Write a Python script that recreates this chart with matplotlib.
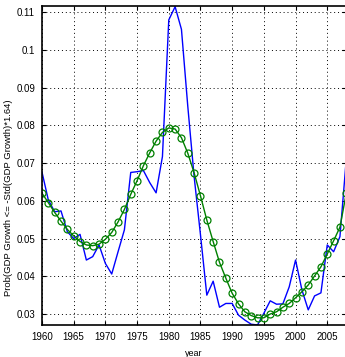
import numpy as np
import matplotlib
matplotlib.use('Agg')
import matplotlib.pyplot as plt

plt.rcParams['font.family'] = ['Liberation Sans', 'DejaVu Sans']

years = np.arange(1960, 2009)

# Prob(GDP growth <= -std*1.64), yearly estimate (blue)
prob_raw = [0.0676, 0.0602, 0.0571, 0.0573, 0.0518, 0.0500, 0.0511, 0.0443, 0.0452, 0.0483,
            0.0434, 0.0406, 0.0465, 0.0523, 0.0675, 0.0677, 0.0680, 0.0648, 0.0621, 0.0717,
            0.1079, 0.1114, 0.1054, 0.0850, 0.0664, 0.0510, 0.0350, 0.0387, 0.0318, 0.0328,
            0.0328, 0.0297, 0.0284, 0.0273, 0.0271, 0.0302, 0.0335, 0.0326, 0.0327, 0.0372,
            0.0443, 0.0364, 0.0311, 0.0348, 0.0356, 0.0483, 0.0465, 0.0505, 0.0710]

# smoothed series (green circles)
prob_smooth = [0.0620, 0.0595, 0.0569, 0.0546, 0.0524, 0.0507, 0.0492, 0.0483, 0.0481, 0.0485,
               0.0498, 0.0516, 0.0544, 0.0577, 0.0617, 0.0653, 0.0693, 0.0727, 0.0758, 0.0781,
               0.0793, 0.0790, 0.0767, 0.0726, 0.0674, 0.0613, 0.0549, 0.0492, 0.0437, 0.0395,
               0.0355, 0.0327, 0.0306, 0.0296, 0.0290, 0.0290, 0.0300, 0.0306, 0.0318, 0.0328,
               0.0343, 0.0359, 0.0377, 0.0401, 0.0425, 0.0459, 0.0494, 0.0530, 0.0620]

xticks = np.arange(1960, 2006, 5)
yticks = [0.03, 0.04, 0.05, 0.06, 0.07, 0.08, 0.09, 0.1, 0.11]
ytick_labels = ['0.03', '0.04', '0.05', '0.06', '0.07', '0.08', '0.09', '0.1', '0.11']

fig = plt.figure(figsize=(3.45, 3.57), dpi=100)
ax = fig.add_axes([0.1217, 0.0896, 0.8820, 0.8936])

ax.plot(years, prob_raw, color='#0000ff', lw=1.0)
ax.plot(years, prob_smooth, color='#008000', lw=1.0, marker='o',
        markersize=5, markerfacecolor='none', markeredgecolor='#008000', markeredgewidth=0.9)

ax.set_xlim(1960, 2008)
ax.set_ylim(0.02709, 0.11159)
ax.set_xticks(xticks)
ax.set_yticks(yticks)
ax.set_yticklabels(ytick_labels)
ax.tick_params(direction='in', top=True, right=True, labelsize=7, length=3, width=0.8, pad=5)
ax.grid(True, color='k', linestyle=(0, (1, 3)), lw=0.7)

for s in ax.spines.values():
    s.set_linewidth(1.2)

ax.set_xlabel('year', fontsize=6.5)
ax.xaxis.set_label_coords(0.5, -0.075)
ax.set_ylabel('Prob(GDP Growth <= -Std(GDP Growth)*1.64)', fontsize=6.8, labelpad=5)
ax.yaxis.set_label_coords(-0.095, 0.40)

fig.savefig('out.png', dpi=100)
plt.close(fig)
